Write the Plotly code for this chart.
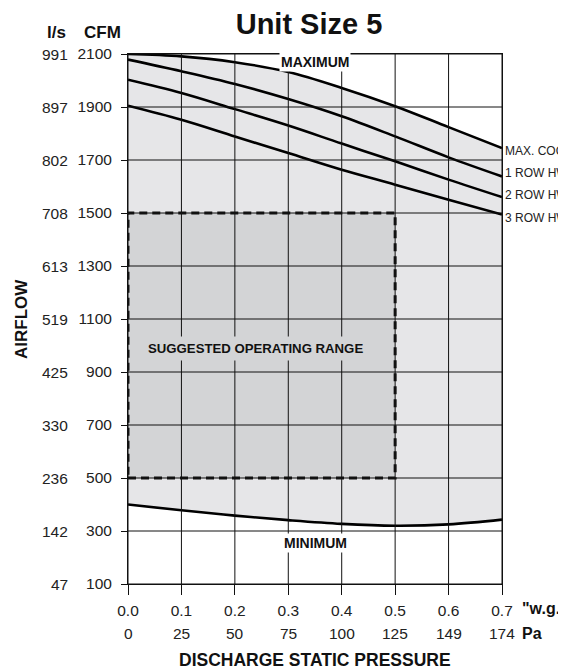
import plotly.graph_objects as go

# ---------------- data ----------------
pressure_wg = [0.0, 0.1, 0.2, 0.3, 0.4, 0.5, 0.6, 0.7]
wg_labels = ["0.0", "0.1", "0.2", "0.3", "0.4", "0.5", "0.6", "0.7"]
pa_labels = ["0", "25", "50", "75", "100", "125", "149", "174"]
cfm_ticks = [100, 300, 500, 700, 900, 1100, 1300, 1500, 1700, 1900, 2100]
ls_labels = ["47", "142", "236", "330", "425", "519", "613", "708", "802", "897", "991"]

max_cfm = [2100, 2091, 2069, 2032, 1972, 1903, 1824, 1745]
hw1_cfm = [2079, 2035, 1987, 1930, 1865, 1789, 1710, 1638]
hw2_cfm = [2003, 1953, 1892, 1830, 1762, 1695, 1626, 1560]
hw3_cfm = [1905, 1852, 1789, 1726, 1663, 1607, 1550, 1494]
min_cfm = [400, 378, 358, 341, 327, 320, 325, 343]

curve_names = ["MAX. COOLING", "1 ROW HW", "2 ROW HW", "3 ROW HW"]
curve_label_cfm = [1735, 1652, 1569, 1482]

range_wg = [0.0, 0.5]
range_cfm = [500, 1500]

REG = "Liberation Sans Narrow, Liberation Sans, Arial, sans-serif"
BOLD = "Liberation Sans, Arial, Helvetica, sans-serif"
LINE_W = 2.6
INK = "#111"

fig = go.Figure()

line = dict(color="black", width=LINE_W, shape="spline", smoothing=1.0)
fig.add_trace(go.Scatter(x=pressure_wg, y=min_cfm, mode="lines", line=line,
                         showlegend=False, hoverinfo="skip"))
fig.add_trace(go.Scatter(x=pressure_wg, y=max_cfm, mode="lines", line=line,
                         fill="tonexty", fillcolor="#e6e6e8",
                         showlegend=False, hoverinfo="skip"))
for ys in (hw1_cfm, hw2_cfm, hw3_cfm):
    fig.add_trace(go.Scatter(x=pressure_wg, y=ys, mode="lines", line=line,
                             showlegend=False, hoverinfo="skip"))

shapes = []
# suggested operating range fill
shapes.append(dict(type="rect", xref="x", yref="y",
                   x0=range_wg[0], x1=range_wg[1], y0=range_cfm[0], y1=range_cfm[1],
                   fillcolor="#d3d4d6", line=dict(width=0), layer="above"))
# grid lines drawn above the fills
for xv in pressure_wg:
    shapes.append(dict(type="line", xref="x", yref="y", x0=xv, x1=xv,
                       y0=cfm_ticks[0], y1=cfm_ticks[-1],
                       line=dict(color=INK, width=1), layer="above"))
for yv in cfm_ticks:
    shapes.append(dict(type="line", xref="x", yref="y", x0=pressure_wg[0], x1=pressure_wg[-1],
                       y0=yv, y1=yv, line=dict(color=INK, width=1), layer="above"))
# dashed border of range
shapes.append(dict(type="rect", xref="x", yref="y",
                   x0=range_wg[0], x1=range_wg[1], y0=range_cfm[0], y1=range_cfm[1],
                   fillcolor="rgba(0,0,0,0)", line=dict(color=INK, width=3, dash="8px,5px"),
                   layer="above"))

ann = []
# l/s column
for yv, lab in zip(cfm_ticks, ls_labels):
    ann.append(dict(xref="paper", yref="y", x=0, y=yv, text=lab, showarrow=False,
                    xanchor="right", yanchor="middle", xshift=-58,
                    font=dict(family=REG, size=15.5, color="#222")))
# Pa row
for xv, lab in zip(pressure_wg, pa_labels):
    ann.append(dict(xref="x", yref="paper", x=xv, y=0, text=lab, showarrow=False,
                    xanchor="center", yanchor="middle", yshift=-49,
                    font=dict(family=REG, size=15.5, color="#222")))
# unit labels
ann.append(dict(xref="paper", yref="paper", x=1, y=0, text='<b>"w.g.</b>', showarrow=False,
                xanchor="left", yanchor="middle", xshift=18, yshift=-24,
                font=dict(family=BOLD, size=16, color=INK)))
ann.append(dict(xref="paper", yref="paper", x=1, y=0, text="<b>Pa</b>", showarrow=False,
                xanchor="left", yanchor="middle", xshift=18, yshift=-49,
                font=dict(family=BOLD, size=16, color=INK)))
ann.append(dict(xref="paper", yref="paper", x=0, y=1, text="<b>l/s</b>", showarrow=False,
                xanchor="center", yanchor="middle", xshift=-71.5, yshift=22,
                font=dict(family=BOLD, size=17, color=INK)))
ann.append(dict(xref="paper", yref="paper", x=0, y=1, text="<b>CFM</b>", showarrow=False,
                xanchor="center", yanchor="middle", xshift=-25.5, yshift=22,
                font=dict(family=BOLD, size=17, color=INK)))
ann.append(dict(xref="paper", yref="paper", x=0, y=0.5, text="<b>AIRFLOW</b>", showarrow=False,
                xanchor="center", yanchor="middle", xshift=-107, textangle=-90,
                font=dict(family=BOLD, size=17, color=INK)))
ann.append(dict(xref="paper", yref="paper", x=0.5, y=0, text="<b>DISCHARGE STATIC PRESSURE</b>",
                showarrow=False, xanchor="center", yanchor="middle", yshift=-76,
                font=dict(family=BOLD, size=17.5, color=INK)))
# curve labels on the right (cut at the window edge, as in the source)
for name, yv in zip(curve_names, curve_label_cfm):
    ann.append(dict(xref="paper", yref="y", x=1, y=yv, text=name, showarrow=False,
                    xanchor="left", yanchor="middle", xshift=1,
                    font=dict(family=REG, size=12, color="#222")))
# in-chart labels
ann.append(dict(xref="x", yref="y", x=0.35, y=2068, text="<b>MAXIMUM</b>", showarrow=False,
                bgcolor="white", borderpad=1,
                font=dict(family=BOLD, size=14, color=INK)))
ann.append(dict(xref="x", yref="y", x=0.35, y=256, text="<b>MINIMUM</b>", showarrow=False,
                bgcolor="white", borderpad=1,
                font=dict(family=BOLD, size=14, color=INK)))
ann.append(dict(xref="x", yref="y", x=0.238, y=990, text="<b>SUGGESTED OPERATING RANGE</b>",
                showarrow=False, bgcolor="#d3d4d6", borderpad=4,
                font=dict(family=BOLD, size=13.2, color=INK)))

# page body adds an 8px offset, so the figure is 8px smaller than the window
fig.update_layout(
    width=558, height=661,
    margin=dict(l=120, r=64, t=46, b=85),
    paper_bgcolor="white", plot_bgcolor="white",
    title=dict(text="<b>Unit Size 5</b>", x=0.484, xref="paper", xanchor="center",
               y=1 - 16 / 661, yanchor="middle",
               font=dict(family=BOLD, size=29, color=INK)),
    shapes=shapes, annotations=ann, showlegend=False,
    xaxis=dict(range=[pressure_wg[0], pressure_wg[-1]], tickvals=pressure_wg, ticktext=wg_labels,
               showgrid=False, zeroline=False, showline=True, mirror=True,
               linecolor=INK, linewidth=1, ticks="outside", ticklen=10,
               tickcolor=INK, tickwidth=1, ticklabelstandoff=2,
               tickfont=dict(family=REG, size=15.5, color="#222")),
    yaxis=dict(range=[cfm_ticks[0], cfm_ticks[-1]], tickvals=cfm_ticks,
               ticktext=[str(v) for v in cfm_ticks],
               showgrid=False, zeroline=False, showline=True, mirror=True,
               linecolor=INK, linewidth=1, ticks="outside", ticklen=6,
               tickcolor=INK, tickwidth=1, ticklabelstandoff=6,
               tickfont=dict(family=REG, size=15.5, color="#222")),
)

fig.write_html("out.html")
